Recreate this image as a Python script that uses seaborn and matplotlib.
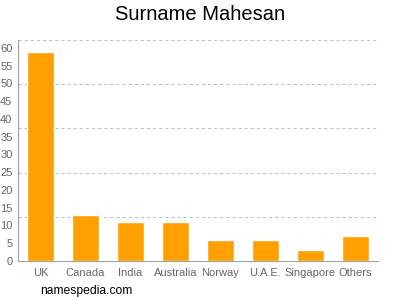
import matplotlib
matplotlib.use("Agg")
import matplotlib.pyplot as plt
import seaborn as sns
import pandas as pd

countries = ["UK", "Canada", "India", "Australia", "Norway", "U.A.E.", "Singapore", "Others"]
counts = [59, 13, 11, 11, 6, 6, 3, 7]
yticks = list(range(0, 61, 5))
grid_levels = [12.45, 24.9, 37.35, 49.8, 62.25]

sns.set_style("white")
plt.rcParams['font.family'] = ['Liberation Sans', 'DejaVu Sans']

df = pd.DataFrame({"country": countries, "count": counts})

fig = plt.figure(figsize=(4, 3), dpi=100)
ax = fig.add_axes([18/400, 1 - 261/300, 360/400, 221/300])

sns.barplot(data=df, x="country", y="count", color="#FFA000", saturation=1,
            width=0.62, ax=ax, zorder=3)

ax.set_xlim(-0.5, len(countries) - 0.5)
ax.set_ylim(0, 62.25)
ax.set_yticks(yticks)
for g in grid_levels:
    ax.axhline(g, color="#c4c4c4", lw=0.8, ls=(0, (3, 2.5)), zorder=1)

ax.set_xlabel("")
ax.set_ylabel("")
for s in ["top", "right"]:
    ax.spines[s].set_visible(False)
for s in ["left", "bottom"]:
    ax.spines[s].set_color("#a0a0a0")
    ax.spines[s].set_linewidth(0.8)
ax.tick_params(axis="both", colors="#a0a0a0", labelcolor="#666666",
               labelsize=8, length=3, width=0.8, pad=1)
ax.tick_params(axis="x", pad=2)

fig.text(0.5, 1 - 15/300, "Surname Mahesan", ha="center", va="center",
         fontsize=14.5, color="#000000")
fig.text(40/400, 1 - 291/300, "namespedia.com", ha="left", va="center",
         fontsize=8.7, color="#000000")

fig.savefig("out.png", dpi=100)
